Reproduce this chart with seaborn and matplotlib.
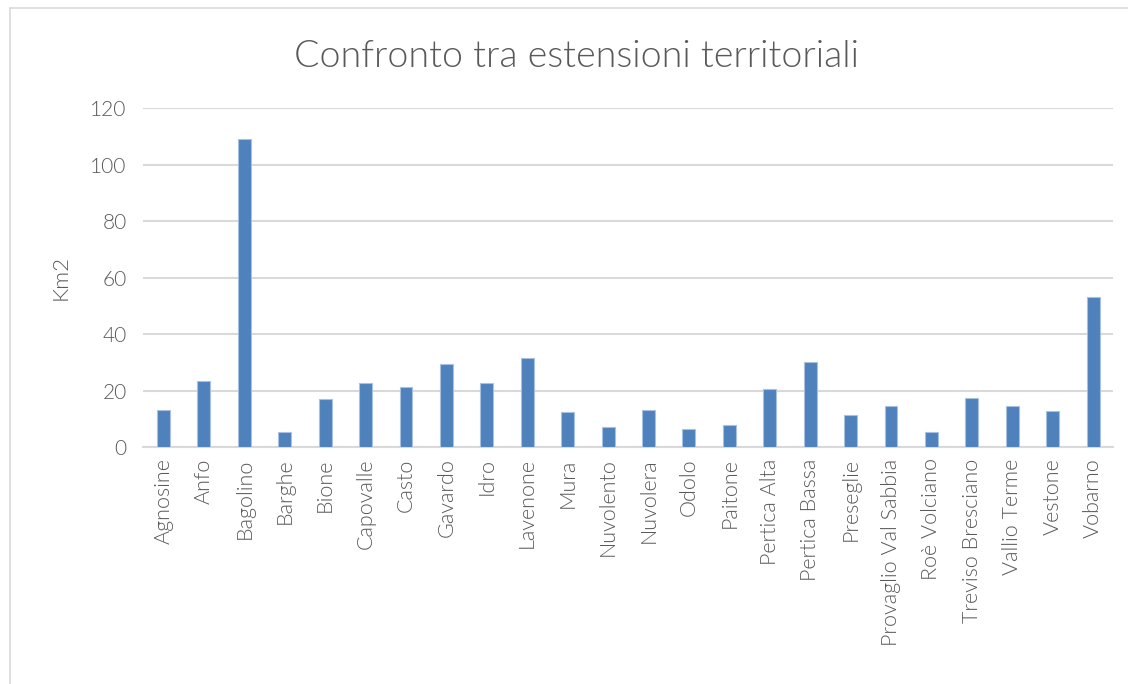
import matplotlib
matplotlib.use("Agg")
import matplotlib.pyplot as plt
import seaborn as sns
import pandas as pd
from matplotlib.patches import Rectangle

comuni = ["Agnosine", "Anfo", "Bagolino", "Barghe", "Bione", "Capovalle", "Casto",
          "Gavardo", "Idro", "Lavenone", "Mura", "Nuvolento", "Nuvolera", "Odolo",
          "Paitone", "Pertica Alta", "Pertica Bassa", "Preseglie", "Provaglio Val Sabbia",
          "Roè Volciano", "Treviso Bresciano", "Vallio Terme", "Vestone", "Vobarno"]
superficie = [13.3, 23.6, 109.2, 5.4, 17.2, 22.8, 21.3, 29.6, 22.8, 31.6, 12.5,
              7.2, 13.2, 6.4, 8.0, 20.8, 30.1, 11.4, 14.7, 5.6, 17.6, 14.7, 12.8, 53.2]
y_ticks = [0, 20, 40, 60, 80, 100, 120]

df = pd.DataFrame({"comune": comuni, "km2": superficie})

sns.set_theme(style="white")
plt.rcParams["font.family"] = ["Lato", "DejaVu Sans"]
grigio = "#595959"
peso = 300

fig, ax = plt.subplots(figsize=(11.28, 6.84), dpi=100)
fig.subplots_adjust(left=0.127, right=0.987, top=0.842, bottom=0.346)

sns.barplot(data=df, x="comune", y="km2", color="#4F81BD", width=0.32,
            edgecolor="#A9C1E0", linewidth=0.8, saturation=1, ax=ax, zorder=3)

ax.set_ylim(0, 120)
ax.set_yticks(y_ticks)
ax.set_xlim(-0.5, len(comuni) - 0.5)
ax.yaxis.grid(True, color="#D9D9D9", linewidth=1.5, zorder=0)
ax.set_axisbelow(True)
for s in ["top", "right", "left"]:
    ax.spines[s].set_visible(False)
ax.spines["bottom"].set_color("#D9D9D9")
ax.spines["bottom"].set_linewidth(1.5)

ax.tick_params(axis="y", labelsize=15, labelcolor=grigio, length=0, pad=12)
ax.tick_params(axis="x", labelsize=15.5, labelcolor=grigio, length=0, pad=8)
for lab in ax.get_xticklabels():
    lab.set_rotation(90)
    lab.set_fontweight(peso)
for lab in ax.get_yticklabels():
    lab.set_fontweight(peso)

ax.set_xlabel("")
ax.set_ylabel("Km2", fontsize=16, color=grigio, fontweight=peso, labelpad=14)
fig.suptitle("Confronto tra estensioni territoriali", x=0.511, y=0.942, fontsize=27,
             color=grigio, fontweight=peso)

fig.patches.append(Rectangle((0.009, -0.05), 1.2, 1.038, transform=fig.transFigure,
                             fill=False, edgecolor="#D9D9D9", linewidth=1.2))

fig.savefig("out.png", dpi=100, facecolor="white")
